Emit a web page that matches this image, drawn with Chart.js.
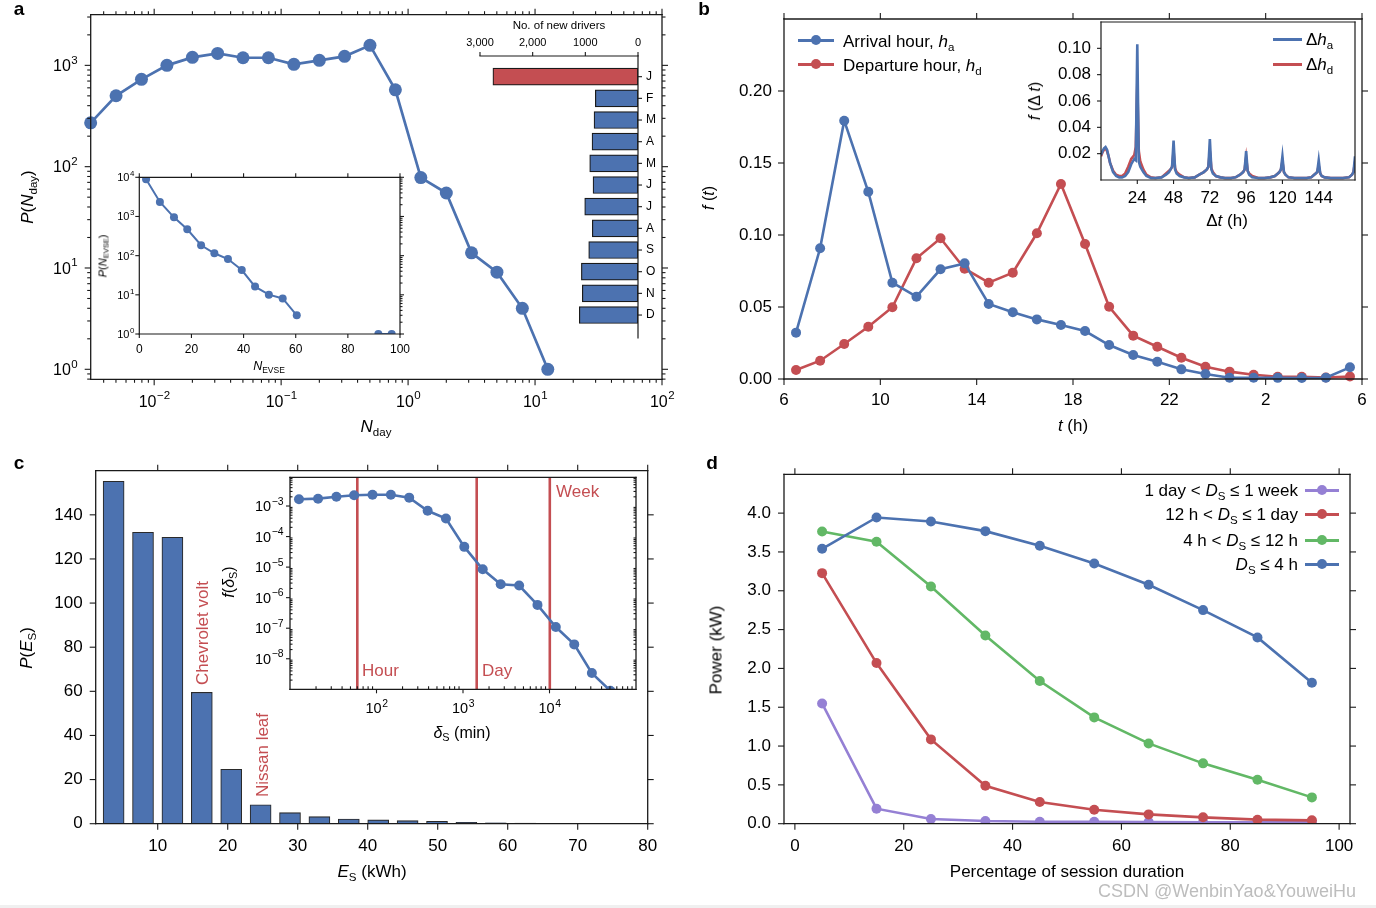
<!DOCTYPE html>
<html><head><meta charset="utf-8">
<script src="https://cdn.jsdelivr.net/npm/chart.js@4.4.1/dist/chart.umd.min.js"></script>
<style>
html,body{margin:0;padding:0;background:#fff;width:1376px;height:908px;overflow:hidden;position:relative}
canvas{position:absolute}
.t{position:absolute;white-space:nowrap;font-family:'Liberation Sans',Arial,Helvetica,sans-serif;color:#000;line-height:1;z-index:5}
.c{transform:translate(-50%,-50%)}
.r{transform:translate(-50%,-50%) rotate(-90deg)}
.lv{transform:translateY(-50%)}
.rv{transform:translate(-100%,-50%)}
sub{font-size:68%;vertical-align:baseline;position:relative;top:0.32em;line-height:0;font-style:normal}
.ln{position:absolute;height:3px;z-index:5}
.dot{position:absolute;width:10px;height:10px;border-radius:50%;z-index:5;transform:translate(-50%,-50%)}
.pl{font-weight:bold;font-size:19px}
</style></head><body>

<!-- panel a -->
<div class="t c pl" style="left:19px;top:8px">a</div>
<div class="t r" style="left:27px;top:197px;font-size:17px"><i>P</i>(<i>N</i><sub>day</sub>)</div>
<div class="t c" style="left:376px;top:426px;font-size:17px"><i>N</i><sub>day</sub></div>
<div class="t c" style="left:559px;top:26px;font-size:11.5px">No. of new drivers</div>
<div class="t r" style="left:103px;top:256px;font-size:11px"><i>P</i>(<i>N</i><sub>EVSE</sub>)</div>
<div class="t c" style="left:269px;top:366px;font-size:12.5px"><i>N</i><sub>EVSE</sub></div>

<!-- panel b -->
<div class="t c pl" style="left:704px;top:8px">b</div>
<div class="t r" style="left:709px;top:198px;font-size:16px"><i>f</i> (<i>t</i>)</div>
<div class="t c" style="left:1073px;top:425px;font-size:17px"><i>t</i> (h)</div>
<div class="ln" style="left:798px;top:38.5px;width:36px;background:#4C72B0"></div>
<div class="dot" style="left:816px;top:40px;background:#4C72B0"></div>
<div class="t lv" style="left:843px;top:41px;font-size:17px">Arrival hour, <i>h</i><sub>a</sub></div>
<div class="ln" style="left:798px;top:62.5px;width:36px;background:#C44E52"></div>
<div class="dot" style="left:816px;top:64px;background:#C44E52"></div>
<div class="t lv" style="left:843px;top:65px;font-size:17px">Departure hour, <i>h</i><sub>d</sub></div>
<div class="t r" style="left:1035px;top:101px;font-size:16px"><i>f</i> (Δ <i>t</i>)</div>
<div class="t c" style="left:1227px;top:220px;font-size:17px">Δ<i>t</i> (h)</div>
<div class="ln" style="left:1273px;top:37.5px;width:29px;background:#4C72B0"></div>
<div class="t lv" style="left:1306px;top:39px;font-size:17px">Δ<i>h</i><sub>a</sub></div>
<div class="ln" style="left:1273px;top:62.5px;width:29px;background:#C44E52"></div>
<div class="t lv" style="left:1306px;top:64px;font-size:17px">Δ<i>h</i><sub>d</sub></div>

<!-- panel c -->
<div class="t c pl" style="left:19px;top:462px">c</div>
<div class="t r" style="left:26px;top:648px;font-size:17px"><i>P</i>(<i>E</i><sub>S</sub>)</div>
<div class="t c" style="left:372px;top:871px;font-size:17px"><i>E</i><sub>S</sub> (kWh)</div>
<div class="t r" style="left:202px;top:633px;font-size:17px;color:#C44E52">Chevrolet volt</div>
<div class="t r" style="left:262px;top:755px;font-size:17px;color:#C44E52">Nissan leaf</div>
<div class="t r" style="left:229px;top:582px;font-size:16px"><i>f</i>(<i>δ</i><sub>S</sub>)</div>
<div class="t c" style="left:462px;top:733px;font-size:16px"><i>δ</i><sub>S</sub> (min)</div>
<div class="t lv" style="left:362px;top:670px;font-size:17px;color:#C44E52">Hour</div>
<div class="t lv" style="left:482px;top:670px;font-size:17px;color:#C44E52">Day</div>
<div class="t lv" style="left:556px;top:491px;font-size:17px;color:#C44E52">Week</div>

<!-- panel d -->
<div class="t c pl" style="left:712px;top:462px">d</div>
<div class="t r" style="left:716px;top:650px;font-size:17px">Power (kW)</div>
<div class="t c" style="left:1067px;top:871px;font-size:17px">Percentage of session duration</div>
<div class="t rv" style="left:1298px;top:490px;font-size:17px">1 day &lt; <i>D</i><sub>S</sub> ≤ 1 week</div>
<div class="ln" style="left:1305px;top:488.5px;width:34px;background:#9580D4"></div>
<div class="dot" style="left:1322px;top:490px;background:#9580D4"></div>
<div class="t rv" style="left:1298px;top:514px;font-size:17px">12 h &lt; <i>D</i><sub>S</sub> ≤ 1 day</div>
<div class="ln" style="left:1305px;top:512.5px;width:34px;background:#C44E52"></div>
<div class="dot" style="left:1322px;top:514px;background:#C44E52"></div>
<div class="t rv" style="left:1298px;top:540px;font-size:17px">4 h &lt; <i>D</i><sub>S</sub> ≤ 12 h</div>
<div class="ln" style="left:1305px;top:538.5px;width:34px;background:#62B866"></div>
<div class="dot" style="left:1322px;top:540px;background:#62B866"></div>
<div class="t rv" style="left:1298px;top:564px;font-size:17px"><i>D</i><sub>S</sub> ≤ 4 h</div>
<div class="ln" style="left:1305px;top:562.5px;width:34px;background:#4C72B0"></div>
<div class="dot" style="left:1322px;top:564px;background:#4C72B0"></div>
<div class="t c" style="left:1227px;top:891px;font-size:18px;color:#bdbdbd">CSDN @WenbinYao&amp;YouweiHu</div>
<div style="position:absolute;left:0;top:905px;width:1376px;height:3px;background:#f0f0f0"></div>

<script>
// ---------------- DATA ----------------
// panel a, main
const aNdayX = [0.00316, 0.00501, 0.00794, 0.0126, 0.02, 0.0316, 0.0501, 0.0794, 0.126, 0.2, 0.316, 0.501, 0.794, 1.26, 2.0, 3.16, 5.01, 7.94, 12.6];
const aNdayP = [271, 501, 728, 1000, 1199, 1313, 1189, 1189, 1023, 1120, 1227, 1575, 574, 78, 55, 14.1, 9.1, 4.0, 1.0];
const aLogTickVals = [0.01, 0.1, 1, 10, 100];
const aLogTickExps = ['−2', '−1', '0', '1', '2'];
const aYTickVals = [1, 10, 100, 1000];
const aYTickExps = ['0', '1', '2', '3'];
// panel a, new drivers inset
const aMonths = ['J', 'F', 'M', 'A', 'M', 'J', 'J', 'A', 'S', 'O', 'N', 'D'];
const aNewDrivers = [2755, 810, 835, 873, 917, 854, 1012, 867, 936, 1075, 1057, 1114];
const aDriverTickVals = [0, 1000, 2000, 3000];
const aDriverTickLabels = ['0', '1000', '2,000', '3,000'];
// panel a, N_EVSE inset
const aEvseX = [2.6, 7.9, 13.3, 18.4, 23.7, 28.8, 34.0, 39.3, 44.4, 49.7, 55.0, 60.4];
const aEvseP = [8890, 2345, 952, 470, 184, 115, 82, 43, 16.2, 10.1, 8.1, 3.0];
const aEvseTailX = [91.7, 96.8];
const aEvseTailP = [1, 1];
const aEvseXTicks = [0, 20, 40, 60, 80, 100];
const aEvseXLabels = ['0', '20', '40', '60', '80', '100'];
const aEvseYTicks = [1, 10, 100, 1000, 10000];
const aEvseYExps = ['0', '1', '2', '3', '4'];

// panel b, main
const bHours = [6.5, 7.5, 8.5, 9.5, 10.5, 11.5, 12.5, 13.5, 14.5, 15.5, 16.5, 17.5, 18.5, 19.5, 20.5, 21.5, 22.5, 23.5, 24.5, 25.5, 26.5, 27.5, 28.5, 29.5];
const bArrival = [0.0322, 0.0908, 0.1794, 0.130, 0.0669, 0.0572, 0.0762, 0.0803, 0.0521, 0.0463, 0.0414, 0.0375, 0.0333, 0.0236, 0.0167, 0.012, 0.0067, 0.0035, 0.0009, 0.0009, 0.0008, 0.0007, 0.0009, 0.0081];
const bDeparture = [0.0063, 0.0127, 0.0243, 0.0363, 0.0498, 0.0838, 0.0977, 0.0766, 0.0669, 0.0738, 0.1012, 0.1354, 0.0938, 0.0502, 0.0301, 0.0224, 0.0148, 0.0085, 0.0051, 0.003, 0.0016, 0.0016, 0.001, 0.0017];
const bXTickVals = [6, 10, 14, 18, 22, 26, 30];
const bXTickLabels = ['6', '10', '14', '18', '22', '2', '6'];
const bYTickVals = [0, 0.05, 0.1, 0.15, 0.2];
const bYTickLabels = ['0.00', '0.05', '0.10', '0.15', '0.20'];
// panel b, inset
const bDt = [0,1,2,3,4,5,6,8,10,12,14,16,18,20,22,23,24,25,26,28,30,33,36,40,43,45,46,47,48,49,50,52,55,58,62,65,68,70,71,72,73,74,76,79,82,86,89,92,94,95,96,97,98,100,104,108,112,115,117,118,119,120,121,122,124,128,132,136,139,141,142,143,144,145,146,148,152,156,160,164,166,167,168];
const bDhA = [0.019,0.022,0.024,0.025,0.023,0.018,0.013,0.006,0.003,0.002,0.002,0.003,0.006,0.012,0.016,0.015,0.103,0.014,0.010,0.006,0.003,0.0015,0.0015,0.002,0.004,0.006,0.008,0.010,0.030,0.008,0.005,0.003,0.002,0.0015,0.002,0.004,0.006,0.008,0.010,0.031,0.008,0.005,0.003,0.002,0.0015,0.0015,0.002,0.004,0.006,0.008,0.022,0.007,0.004,0.002,0.0015,0.0015,0.002,0.003,0.005,0.006,0.008,0.018,0.006,0.004,0.002,0.0015,0.0015,0.0015,0.002,0.004,0.005,0.006,0.015,0.005,0.003,0.002,0.0015,0.0015,0.0015,0.002,0.004,0.006,0.018];
const bDhD = [0.018,0.021,0.023,0.024,0.022,0.018,0.013,0.007,0.004,0.003,0.003,0.005,0.010,0.016,0.019,0.025,0.073,0.022,0.014,0.008,0.004,0.002,0.0015,0.002,0.005,0.007,0.008,0.010,0.022,0.009,0.006,0.004,0.002,0.0015,0.002,0.004,0.006,0.008,0.010,0.022,0.009,0.006,0.003,0.002,0.0015,0.0015,0.002,0.004,0.006,0.008,0.017,0.007,0.005,0.003,0.0015,0.0015,0.002,0.003,0.005,0.006,0.008,0.014,0.006,0.004,0.002,0.0015,0.0015,0.0015,0.002,0.004,0.005,0.006,0.011,0.005,0.003,0.002,0.0015,0.0015,0.0015,0.002,0.004,0.006,0.014];
const bDtTickVals = [24, 48, 72, 96, 120, 144];
const bDtTickLabels = ['24', '48', '72', '96', '120', '144'];
const bFTickVals = [0.02, 0.04, 0.06, 0.08, 0.10];
const bFTickLabels = ['0.02', '0.04', '0.06', '0.08', '0.10'];

// panel c, main
const cEnergyBins = [3.7, 7.9, 12.1, 16.3, 20.5, 24.7, 28.9, 33.1, 37.3, 41.5, 45.7, 49.9, 54.1, 58.3, 62.5, 66.7, 70.9, 75.1, 79.3];
const cEnergyP = [155.2, 132.1, 129.8, 59.5, 24.7, 8.6, 5.0, 3.2, 2.1, 1.7, 1.4, 1.1, 0.6, 0.45, 0.3, 0.2, 0.15, 0.1, 0.1];
const cXTickVals = [10, 20, 30, 40, 50, 60, 70, 80];
const cXTickLabels = ['10', '20', '30', '40', '50', '60', '70', '80'];
const cYTickVals = [0, 20, 40, 60, 80, 100, 120, 140];
const cYTickLabels = ['0', '20', '40', '60', '80', '100', '120', '140'];
// panel c, inset
const cDeltaX = [12.7, 21.1, 34.4, 55.1, 89.9, 146.6, 238.8, 390, 635, 1035, 1690, 2729, 4457, 7261, 11830, 19320, 30900, 50470];
const cDeltaF = [1.66e-3, 1.74e-3, 2.02e-3, 2.24e-3, 2.35e-3, 2.35e-3, 1.88e-3, 7.0e-4, 3.9e-4, 4.6e-5, 8.5e-6, 2.75e-6, 2.5e-6, 5.8e-7, 1.09e-7, 2.95e-8, 3.4e-9, 9e-10];
const cMarkers = [60, 1440, 10080];
const cInXTickVals = [100, 1000, 10000];
const cInXTickExps = ['2', '3', '4'];
const cInYTickVals = [1e-3, 1e-4, 1e-5, 1e-6, 1e-7, 1e-8];
const cInYTickExps = ['−3', '−4', '−5', '−6', '−7', '−8'];

// panel d
const dPct = [5, 15, 25, 35, 45, 55, 65, 75, 85, 95];
const dUpTo4h = [3.54, 3.944, 3.893, 3.768, 3.579, 3.352, 3.077, 2.751, 2.399, 1.815];
const d4hTo12h = [3.764, 3.631, 3.056, 2.425, 1.837, 1.369, 1.034, 0.777, 0.567, 0.339];
const d12hTo1day = [3.227, 2.069, 1.086, 0.489, 0.279, 0.180, 0.120, 0.082, 0.052, 0.043];
const d1dayTo1week = [1.549, 0.193, 0.060, 0.034, 0.026, 0.026, 0.021, 0.017, 0.017, 0.017];
const dXTickVals = [0, 20, 40, 60, 80, 100];
const dXTickLabels = ['0', '20', '40', '60', '80', '100'];
const dYTickVals = [0, 0.5, 1, 1.5, 2, 2.5, 3, 3.5, 4];
const dYTickLabels = ['0.0', '0.5', '1.0', '1.5', '2.0', '2.5', '3.0', '3.5', '4.0'];

// ---------------- STYLE / HELPERS ----------------
const BLUE = '#4C72B0', RED = '#C44E52', GREEN = '#62B866', PURPLE = '#9580D4';
const FONT = "'Liberation Sans', Arial, Helvetica, sans-serif";

Chart.defaults.font.family = FONT;
Chart.defaults.color = '#000';
Chart.defaults.plugins.legend.display = false;
Chart.defaults.plugins.tooltip.enabled = false;

function logMinor(lo, hi) {
  const out = [];
  for (let e = Math.floor(Math.log10(lo)); e <= Math.ceil(Math.log10(hi)); e++)
    for (let k = 2; k <= 9; k++) { const v = k * Math.pow(10, e); if (v >= lo && v <= hi) out.push(v); }
  return out;
}

const deco = {
  id: 'deco',
  beforeDatasetsDraw(chart, args, o) {
    const ctx = chart.ctx, a = chart.chartArea;
    ctx.save();
    if (o.bg) { ctx.fillStyle = '#fff'; ctx.fillRect(a.left, a.top, a.right - a.left, a.bottom - a.top); }
    (o.vlines || []).forEach(v => {
      const x = chart.scales.x.getPixelForValue(v.value);
      ctx.strokeStyle = v.color; ctx.lineWidth = v.width;
      ctx.beginPath(); ctx.moveTo(x, a.top); ctx.lineTo(x, a.bottom); ctx.stroke();
    });
    ctx.restore();
  },
  afterDatasetsDraw(chart, args, o) {
    const ctx = chart.ctx, a = chart.chartArea;
    ctx.save();
    ctx.strokeStyle = '#1a1a1a'; ctx.lineWidth = o.lw || 1.3; ctx.lineCap = 'square';
    (o.spines || []).forEach(s => {
      ctx.beginPath();
      if (s === 'left') { ctx.moveTo(a.left, a.top); ctx.lineTo(a.left, a.bottom); }
      if (s === 'right') { ctx.moveTo(a.right, a.top); ctx.lineTo(a.right, a.bottom); }
      if (s === 'top') { ctx.moveTo(a.left, a.top); ctx.lineTo(a.right, a.top); }
      if (s === 'bottom') { ctx.moveTo(a.left, a.bottom); ctx.lineTo(a.right, a.bottom); }
      ctx.stroke();
    });
    ctx.lineCap = 'butt';
    (o.ticks || []).forEach(t => {
      const sc = chart.scales[t.scale];
      ctx.lineWidth = t.w || 1.1;
      t.values.forEach(v => {
        const p = sc.getPixelForValue(v);
        const horiz = sc.isHorizontal();
        if (horiz && (p < a.left - 0.5 || p > a.right + 0.5)) return;
        if (!horiz && (p < a.top - 0.5 || p > a.bottom + 0.5)) return;
        t.sides.forEach(s => {
          const g = t.dir === 'in' ? -1 : 1;
          ctx.beginPath();
          if (s === 'bottom') { ctx.moveTo(p, a.bottom); ctx.lineTo(p, a.bottom + g * t.len); }
          if (s === 'top') { ctx.moveTo(p, a.top); ctx.lineTo(p, a.top - g * t.len); }
          if (s === 'left') { ctx.moveTo(a.left, p); ctx.lineTo(a.left - g * t.len, p); }
          if (s === 'right') { ctx.moveTo(a.right, p); ctx.lineTo(a.right + g * t.len, p); }
          ctx.stroke();
        });
      });
    });
    ctx.restore();
  },
  // power-of-ten tick labels with a real raised exponent, placed from the scale
  afterDraw(chart, args, o) {
    const ctx = chart.ctx, a = chart.chartArea;
    (o.rich || []).forEach(r => {
      const sc = chart.scales[r.scale];
      const fb = r.size + 'px ' + FONT, fe = (r.size * 0.72).toFixed(1) + 'px ' + FONT;
      const cap = 0.716 * r.size;
      r.vals.forEach((v, i) => {
        const p = sc.getPixelForValue(v);
        ctx.save();
        ctx.fillStyle = '#000'; ctx.textAlign = 'left'; ctx.textBaseline = 'alphabetic';
        ctx.font = fb; const wb = ctx.measureText('10').width;
        ctx.font = fe; const we = ctx.measureText(r.exps[i]).width;
        let x, base;
        if (r.side === 'left') { x = a.left - r.pad - wb - we - 0.5; base = p + cap / 2; }
        else { x = p - (wb + we) / 2; base = a.bottom + r.pad + cap / 2; }
        ctx.font = fb; ctx.fillText('10', x, base);
        ctx.font = fe; ctx.fillText(r.exps[i], x + wb + 0.5, base - 0.46 * r.size);
        ctx.restore();
      });
    });
  }
};
Chart.register(deco);

function ax(type, pos, min, max, vals, labels, size, pad, extra) {
  return Object.assign({
    type: type, position: pos, min: min, max: max, offset: false,
    grid: { display: false, drawTicks: false }, border: { display: false },
    afterBuildTicks: s => { s.ticks = vals.map(v => ({ value: v })); },
    ticks: { display: labels !== null, autoSkip: false, maxRotation: 0, minRotation: 0, padding: pad, color: '#000',
             font: { family: FONT, size: size }, callback: (v, i) => labels ? labels[i] : '' }
  }, extra || {});
}

// places the chart area exactly at `area` (page px) inside a canvas covering `box`
function makeChart(box, area, cfg) {
  const cv = document.createElement('canvas');
  cv.width = box.w; cv.height = box.h;
  cv.style.left = box.x + 'px'; cv.style.top = box.y + 'px';
  cv.style.width = box.w + 'px'; cv.style.height = box.h + 'px';
  document.body.appendChild(cv);
  const d = { left: area.l - box.x, top: area.t - box.y, right: box.x + box.w - area.r, bottom: box.y + box.h - area.b };
  const pad = Object.assign({}, d);
  Object.values(cfg.options.scales).forEach(sc => {
    const side = sc.position;
    pad[side] = 0;
    sc.afterFit = s => {
      if (s.isHorizontal()) s.height = d[side]; else s.width = d[side];
      s.paddingLeft = 0; s.paddingRight = 0; s.paddingTop = 0; s.paddingBottom = 0;
    };
  });
  cfg.options.responsive = false;
  cfg.options.animation = false;
  cfg.options.devicePixelRatio = 1;
  cfg.options.layout = { autoPadding: false, padding: pad };
  return new Chart(cv, cfg);
}

function pts(xs, ys) { return xs.map((x, i) => ({ x: x, y: ys[i] })); }
function lineDs(xs, ys, color, lw, r, extra) {
  return Object.assign({ data: pts(xs, ys), borderColor: color, backgroundColor: color, borderWidth: lw,
    pointRadius: r, pointBorderWidth: 0, pointBackgroundColor: color, tension: 0, showLine: true }, extra || {});
}

// ---------------- PANEL A ----------------
const aXmin = Math.pow(10, -2.5), aYmin = Math.pow(10, -0.0987), aYmax = Math.pow(10, 3.5);
makeChart({ x: 0, y: 0, w: 690, h: 445 }, { l: 90.7, t: 14.7, r: 662, b: 379.3 }, {
  type: 'line',
  data: { datasets: [lineDs(aNdayX, aNdayP, BLUE, 2.7, 6.5, { clip: false })] },
  options: {
    scales: {
      x: ax('logarithmic', 'bottom', aXmin, 100, aLogTickVals, null, 16, 11),
      y: ax('logarithmic', 'left', aYmin, aYmax, aYTickVals, null, 16, 11)
    },
    plugins: { deco: {
      spines: ['left', 'right', 'top', 'bottom'],
      rich: [
        { scale: 'x', side: 'bottom', vals: aLogTickVals, exps: aLogTickExps, size: 16, pad: 21.5 },
        { scale: 'y', side: 'left', vals: aYTickVals, exps: aYTickExps, size: 16, pad: 13 }
      ],
      ticks: [
        { scale: 'x', values: aLogTickVals, len: 6, sides: ['bottom', 'top'] },
        { scale: 'x', values: logMinor(aXmin, 100), len: 3.5, sides: ['bottom', 'top'] },
        { scale: 'y', values: aYTickVals, len: 6, sides: ['left', 'right'] },
        { scale: 'y', values: logMinor(aYmin, aYmax), len: 3.5, sides: ['left', 'right'] }
      ] } }
  }
});

makeChart({ x: 455, y: 10, w: 215, h: 340 }, { l: 480, t: 56, r: 638, b: 338 }, {
  type: 'bar',
  data: { datasets: [{
    data: aNewDrivers.map((v, i) => ({ x: v, y: i })),
    backgroundColor: aNewDrivers.map((v, i) => i === 0 ? RED : BLUE),
    borderColor: '#1a1a1a', borderWidth: 1.2, borderSkipped: false, barThickness: 17
  }] },
  options: {
    indexAxis: 'y',
    scales: {
      x: ax('linear', 'top', 0, 3000, aDriverTickVals, aDriverTickLabels, 11, 6, { reverse: true }),
      y: ax('linear', 'right', -0.955, 12.06, aMonths.map((m, i) => i), aMonths, 12, 8, { reverse: true })
    },
    plugins: { deco: { spines: ['top', 'right'], lw: 1.2, ticks: [
      { scale: 'x', values: aDriverTickVals, len: 4, sides: ['top'] },
      { scale: 'y', values: aMonths.map((m, i) => i), len: 4, sides: ['right'] }
    ] } }
  }
});

makeChart({ x: 95, y: 165, w: 315, h: 215 }, { l: 139.3, t: 177.3, r: 400, b: 334 }, {
  type: 'line',
  data: { datasets: [
    lineDs(aEvseX, aEvseP, BLUE, 2, 4),
    lineDs(aEvseTailX, aEvseTailP, BLUE, 2, 4)
  ] },
  options: {
    scales: {
      x: ax('linear', 'bottom', 0, 100, aEvseXTicks, aEvseXLabels, 12, 8),
      y: ax('logarithmic', 'left', 1, 10000, aEvseYTicks, null, 11, 6)
    },
    plugins: { deco: { bg: true, spines: ['left', 'right', 'top', 'bottom'], lw: 1.2,
      rich: [ { scale: 'y', side: 'left', vals: aEvseYTicks, exps: aEvseYExps, size: 11, pad: 5 } ],
      ticks: [
        { scale: 'x', values: aEvseXTicks, len: 4, sides: ['bottom', 'top'] },
        { scale: 'y', values: aEvseYTicks, len: 4, sides: ['left', 'right'] },
        { scale: 'y', values: logMinor(1, 10000), len: 2.5, sides: ['right'] }
      ] } }
  }
});

// ---------------- PANEL B ----------------
makeChart({ x: 690, y: 0, w: 686, h: 445 }, { l: 784, t: 19, r: 1362, b: 379 }, {
  type: 'line',
  data: { datasets: [
    lineDs(bHours, bArrival, BLUE, 2.6, 5, { clip: false }),
    lineDs(bHours, bDeparture, RED, 2.6, 5, { clip: false })
  ] },
  options: {
    scales: {
      x: ax('linear', 'bottom', 6, 30, bXTickVals, bXTickLabels, 17, 11),
      y: ax('linear', 'left', 0, 0.25, bYTickVals, bYTickLabels, 17, 12)
    },
    plugins: { deco: { spines: ['left', 'right', 'top', 'bottom'], ticks: [
      { scale: 'x', values: bXTickVals, len: 6, sides: ['bottom', 'top'] },
      { scale: 'y', values: bYTickVals, len: 6, sides: ['left', 'right'] }
    ] } }
  }
});

makeChart({ x: 1040, y: 10, w: 325, h: 220 }, { l: 1101, t: 22, r: 1355, b: 180 }, {
  type: 'line',
  data: { datasets: [
    lineDs(bDt, bDhA, BLUE, 2.6, 0),
    lineDs(bDt, bDhD, RED, 2.6, 0)
  ] },
  options: {
    scales: {
      x: ax('linear', 'bottom', 0, 168, bDtTickVals, bDtTickLabels, 17, 8),
      y: ax('linear', 'left', 0, 0.12, bFTickVals, bFTickLabels, 17, 10)
    },
    plugins: { deco: { bg: true, spines: ['left', 'right', 'top', 'bottom'], lw: 1.2, ticks: [
      { scale: 'x', values: bDtTickVals, len: 4, sides: ['bottom'] },
      { scale: 'y', values: bFTickVals, len: 4, sides: ['left'] }
    ] } }
  }
});

// ---------------- PANEL C ----------------
makeChart({ x: 0, y: 455, w: 690, h: 453 }, { l: 95.7, t: 470.7, r: 647.7, b: 823.7 }, {
  type: 'bar',
  data: { datasets: [{
    data: pts(cEnergyBins, cEnergyP), backgroundColor: BLUE, borderColor: '#2a2a2a',
    borderWidth: 1.1, borderSkipped: 'start', barThickness: 21
  }] },
  options: {
    scales: {
      x: ax('linear', 'bottom', 1.14, 80, cXTickVals, cXTickLabels, 17, 12),
      y: ax('linear', 'left', 0, 160, cYTickVals, cYTickLabels, 17, 13)
    },
    plugins: { deco: { spines: ['left', 'right', 'top', 'bottom'], ticks: [
      { scale: 'x', values: cXTickVals, len: 6, sides: ['bottom', 'top'] },
      { scale: 'y', values: cYTickVals, len: 6, sides: ['left', 'right'] }
    ] } }
  }
});

const cInYmax = Math.pow(10, -2.06);
makeChart({ x: 215, y: 468, w: 430, h: 282 }, { l: 290, t: 477.3, r: 636, b: 689.3 }, {
  type: 'line',
  data: { datasets: [lineDs(cDeltaX, cDeltaF, BLUE, 2.6, 5)] },
  options: {
    scales: {
      x: ax('logarithmic', 'bottom', 10, 100000, cInXTickVals, null, 15, 9),
      y: ax('logarithmic', 'left', 1e-9, cInYmax, cInYTickVals, null, 15, 7)
    },
    plugins: { deco: { bg: true, spines: ['left', 'right', 'top', 'bottom'], lw: 1.3,
      vlines: cMarkers.map(v => ({ value: v, color: RED, width: 2.6 })),
      rich: [
        { scale: 'x', side: 'bottom', vals: cInXTickVals, exps: cInXTickExps, size: 14.5, pad: 19 },
        { scale: 'y', side: 'left', vals: cInYTickVals, exps: cInYTickExps, size: 14.5, pad: 6.5 }
      ],
      ticks: [
        { scale: 'x', values: cInXTickVals, len: 4, sides: ['bottom'] },
        { scale: 'x', values: logMinor(10, 100000), len: 3, sides: ['bottom'], dir: 'in' },
        { scale: 'y', values: cInYTickVals, len: 4, sides: ['left'] },
        { scale: 'y', values: logMinor(1e-9, cInYmax), len: 2.5, sides: ['left', 'right'], dir: 'in' }
      ] } }
  }
});

// ---------------- PANEL D ----------------
makeChart({ x: 690, y: 455, w: 686, h: 453 }, { l: 784, t: 474.3, r: 1350, b: 823.7 }, {
  type: 'line',
  data: { datasets: [
    lineDs(dPct, dUpTo4h, BLUE, 2.6, 5),
    lineDs(dPct, d4hTo12h, GREEN, 2.6, 5),
    lineDs(dPct, d12hTo1day, RED, 2.6, 5),
    lineDs(dPct, d1dayTo1week, PURPLE, 2.6, 5)
  ] },
  options: {
    scales: {
      x: ax('linear', 'bottom', -2, 102, dXTickVals, dXTickLabels, 17, 12),
      y: ax('linear', 'left', 0, 4.5, dYTickVals, dYTickLabels, 17, 13)
    },
    plugins: { deco: { spines: ['left', 'right', 'top', 'bottom'], ticks: [
      { scale: 'x', values: dXTickVals, len: 6, sides: ['bottom', 'top'] },
      { scale: 'y', values: dYTickVals, len: 6, sides: ['left', 'right'] }
    ] } }
  }
});
</script>
</body></html>
